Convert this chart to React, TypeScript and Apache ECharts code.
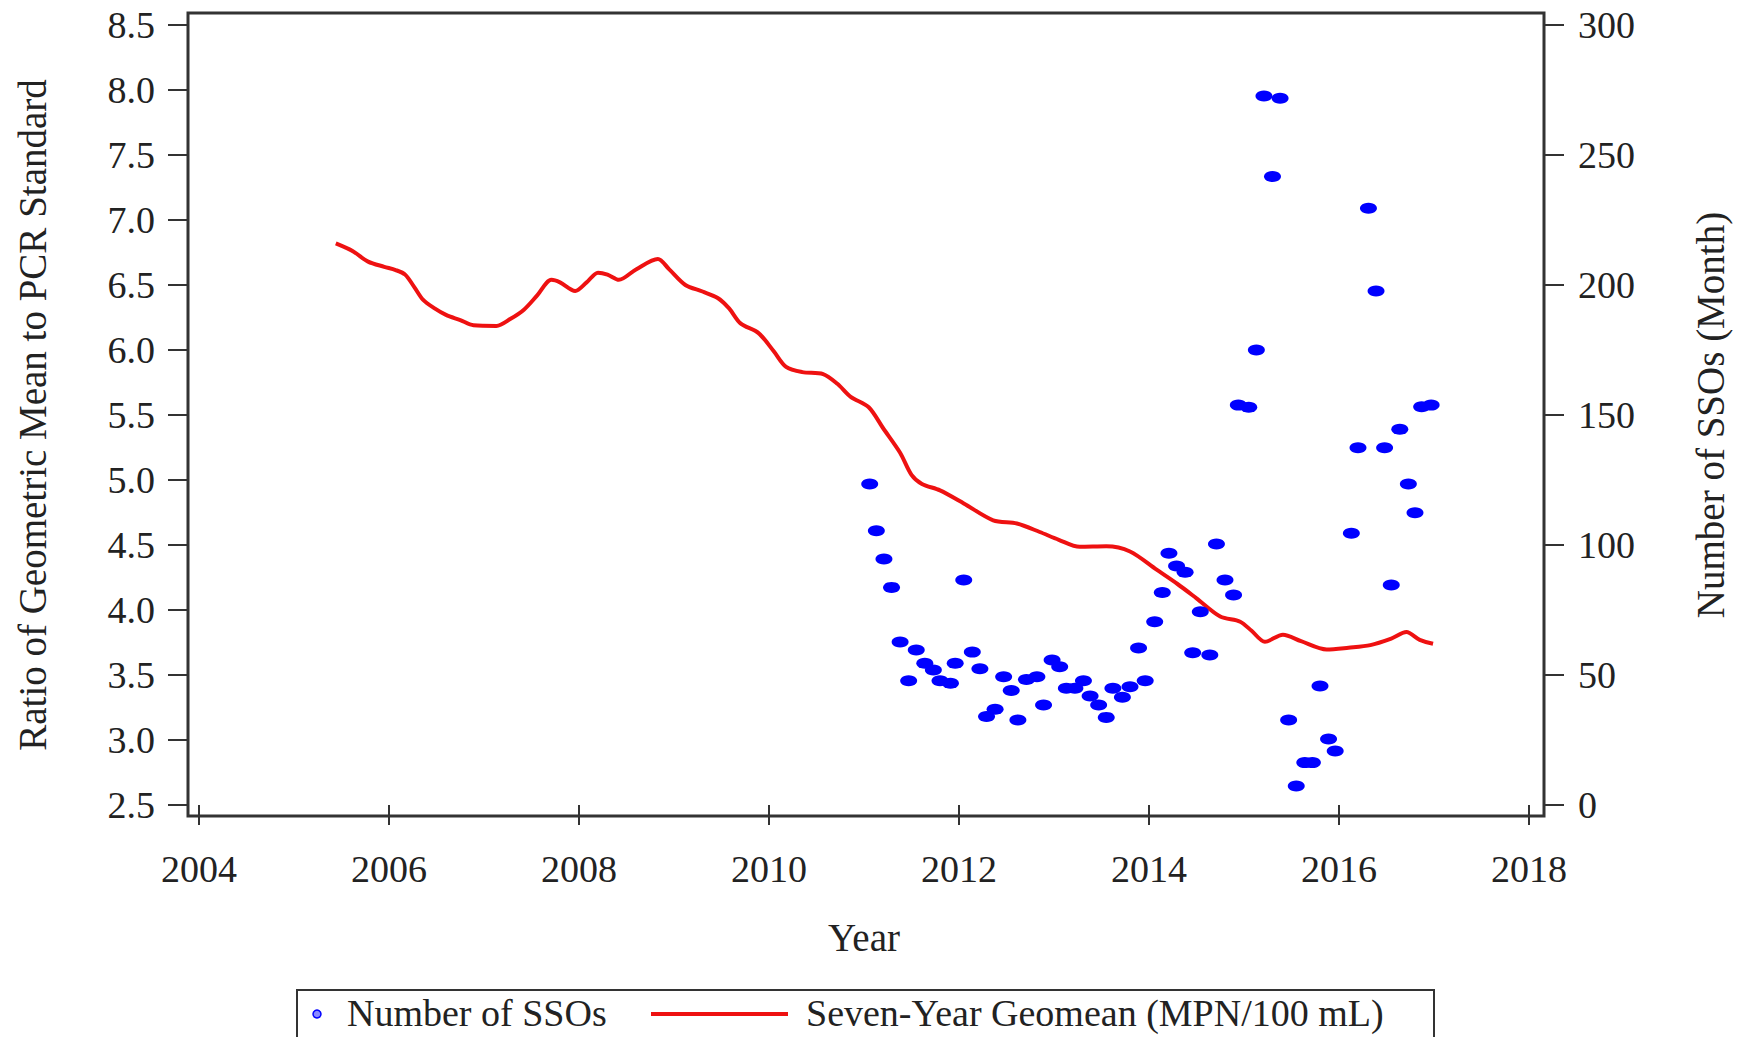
import React, { useEffect, useRef } from "react";
import * as echarts from "echarts";

const xTicks = { min: 2004, max: 2018, interval: 2 };
const leftTicks = { min: 2.5, max: 8.5, interval: 0.5 };
const rightTicks = { min: 0, max: 300, interval: 50 };

const lineYears = [
  2005.44, 2005.62, 2005.78, 2005.95, 2006.07, 2006.17, 2006.27, 2006.36, 2006.48, 2006.6,
  2006.75, 2006.89, 2007.13, 2007.28, 2007.42, 2007.56, 2007.71, 2007.8, 2007.96, 2008.08,
  2008.2, 2008.3, 2008.42, 2008.6, 2008.83, 2008.95, 2009.12, 2009.3, 2009.46, 2009.58,
  2009.7, 2009.89, 2010.05, 2010.18, 2010.35, 2010.57, 2010.72, 2010.86, 2011.05, 2011.2,
  2011.38, 2011.5, 2011.61, 2011.8, 2012.05, 2012.36, 2012.61, 2012.85, 2013.05, 2013.27,
  2013.55, 2013.8, 2014.08, 2014.3, 2014.5, 2014.75, 2014.96, 2015.08, 2015.22, 2015.41,
  2015.6, 2015.87, 2016.1, 2016.33, 2016.55, 2016.71, 2016.85, 2016.99,
];
const lineValues = [
  6.82, 6.76, 6.68, 6.64, 6.615, 6.58, 6.48, 6.385, 6.32, 6.27,
  6.23, 6.19, 6.185, 6.24, 6.31, 6.42, 6.54, 6.52, 6.454, 6.52,
  6.595, 6.58, 6.54, 6.62, 6.7, 6.62, 6.5, 6.45, 6.4, 6.32,
  6.205, 6.13, 5.99, 5.87, 5.83, 5.815, 5.74, 5.64, 5.56, 5.4,
  5.21, 5.04, 4.97, 4.92, 4.82, 4.69, 4.665, 4.6, 4.54, 4.486,
  4.49, 4.45, 4.31, 4.2, 4.09, 3.95, 3.91, 3.84, 3.756, 3.81,
  3.76, 3.696, 3.71, 3.73, 3.78, 3.83, 3.77, 3.74,
];

const ssoYears = [
  2011.06, 2011.13, 2011.21, 2011.29, 2011.38, 2011.47, 2011.55, 2011.64, 2011.73, 2011.8,
  2011.91, 2011.96, 2012.05, 2012.14, 2012.22, 2012.29, 2012.38, 2012.47, 2012.55, 2012.62,
  2012.71, 2012.82, 2012.89, 2012.98, 2013.06, 2013.13, 2013.22, 2013.31, 2013.38, 2013.47,
  2013.55, 2013.62, 2013.72, 2013.8, 2013.89, 2013.96, 2014.06, 2014.14, 2014.21, 2014.29,
  2014.38, 2014.46, 2014.54, 2014.64, 2014.71, 2014.8, 2014.89, 2014.94, 2015.05, 2015.13,
  2015.21, 2015.3, 2015.38, 2015.47, 2015.55, 2015.64, 2015.72, 2015.8, 2015.89, 2015.96,
  2016.13, 2016.2, 2016.31, 2016.39, 2016.48, 2016.55, 2016.64, 2016.73, 2016.8, 2016.87,
  2016.97,
];
const ssoCounts = [
  123.5, 105.5, 94.6, 83.7, 62.7, 47.8, 59.6, 54.5, 51.9, 47.8,
  46.8, 54.5, 86.5, 58.8, 52.4, 34, 36.8, 49.3, 44, 32.7,
  48.3, 49.3, 38.5, 55.8, 53.2, 44.9, 44.9, 47.8, 41.9, 38.5,
  33.7, 44.9, 41.4, 45.5, 60.4, 47.8, 70.5, 81.7, 96.8, 91.9,
  89.5, 58.6, 74.3, 57.7, 100.4, 86.5, 80.8, 153.8, 153, 175,
  272.7, 241.7, 271.8, 32.7, 7.3, 16.3, 16.3, 45.8, 25.4, 20.8,
  104.5, 137.4, 229.5, 197.7, 137.4, 84.6, 144.5, 123.5, 112.4, 153.2,
  153.8,
];

const seriesNames = ["Number of SSOs", "Seven-Year Geomean (MPN/100 mL)"];
const axisNames = {
  x: "Year",
  left: "Ratio of Geometric Mean to PCR Standard",
  right: "Number of SSOs (Month)",
};

const FONT = "'Liberation Serif', 'Times New Roman', serif";
const INK = "#222";
const FRAME = "#333";
const RED = "#EE1111";
const BLUE = "#0000FF";

export default function App() {
  const ref = useRef<HTMLDivElement>(null);

  useEffect(() => {
    if (!ref.current) return;
    const chart = echarts.init(ref.current, undefined, { renderer: "svg" });

    const lineData = lineYears.map((y, i) => [y, lineValues[i]]);
    const ssoData = ssoYears.map((y, i) => [y, ssoCounts[i]]);

    const tickStyle = { show: true, length: 20, inside: false, lineStyle: { color: FRAME, width: 2 } };
    const labelBase = { color: INK, fontFamily: FONT, fontSize: 38 };
    const nameBase = { color: INK, fontFamily: FONT, fontSize: 39 };

    chart.setOption({
      animation: false,
      backgroundColor: "#fff",
      grid: { left: 199, right: 222, top: 25, bottom: 232, containLabel: false },
      xAxis: {
        type: "value",
        min: xTicks.min,
        max: xTicks.max,
        interval: xTicks.interval,
        offset: 11,
        axisLine: { show: false },
        axisTick: tickStyle,
        splitLine: { show: false },
        axisLabel: { ...labelBase, margin: 34, formatter: (v: number) => String(v) },
        name: axisNames.x,
        nameLocation: "middle",
        nameGap: 102,
        nameTextStyle: nameBase,
      },
      yAxis: [
        {
          type: "value",
          position: "left",
          min: leftTicks.min,
          max: leftTicks.max,
          interval: leftTicks.interval,
          offset: 11,
          axisLine: { show: false },
          axisTick: tickStyle,
          splitLine: { show: false },
          axisLabel: { ...labelBase, margin: 33, formatter: (v: number) => v.toFixed(1) },
          name: axisNames.left,
          nameLocation: "middle",
          nameRotate: 90,
          nameGap: 136,
          nameTextStyle: nameBase,
        },
        {
          type: "value",
          position: "right",
          min: rightTicks.min,
          max: rightTicks.max,
          interval: rightTicks.interval,
          offset: 15,
          axisLine: { show: false },
          axisTick: tickStyle,
          splitLine: { show: false },
          axisLabel: { ...labelBase, margin: 34, formatter: (v: number) => String(v) },
          name: axisNames.right,
          nameLocation: "middle",
          nameRotate: 90,
          nameGap: 147,
          nameTextStyle: nameBase,
        },
      ],
      series: [
        {
          name: seriesNames[1],
          type: "line",
          yAxisIndex: 0,
          data: lineData,
          showSymbol: false,
          smooth: 0.3,
          lineStyle: { color: RED, width: 4 },
          z: 2,
        },
        {
          name: seriesNames[0],
          type: "scatter",
          yAxisIndex: 1,
          data: ssoData,
          symbol: "circle",
          symbolSize: [17, 11],
          itemStyle: { color: BLUE, opacity: 1 },
          z: 3,
        },
      ],
      graphic: [
        {
          type: "rect",
          silent: true,
          z: 100,
          shape: { x: 188, y: 13, width: 1356, height: 803 },
          style: { fill: "none", stroke: FRAME, lineWidth: 3 },
        },
        {
          type: "rect",
          silent: true,
          z: 100,
          shape: { x: 297, y: 990, width: 1137, height: 70 },
          style: { fill: "#fff", stroke: FRAME, lineWidth: 2 },
        },
        {
          type: "circle",
          silent: true,
          z: 101,
          shape: { cx: 317, cy: 1014, r: 4 },
          style: { fill: "#8a8aff", stroke: BLUE, lineWidth: 1.5 },
        },
        {
          type: "text",
          silent: true,
          z: 101,
          x: 347,
          y: 1013,
          style: { text: seriesNames[0], font: `38px ${FONT}`, fill: INK, verticalAlign: "middle", align: "left" },
        },
        {
          type: "line",
          silent: true,
          z: 101,
          shape: { x1: 651, y1: 1014, x2: 788, y2: 1014 },
          style: { stroke: RED, lineWidth: 4 },
        },
        {
          type: "text",
          silent: true,
          z: 101,
          x: 806,
          y: 1013,
          style: { text: seriesNames[1], font: `38px ${FONT}`, fill: INK, verticalAlign: "middle", align: "left" },
        },
      ],
    });

    return () => chart.dispose();
  }, []);

  return (
    <div
      ref={ref}
      style={{ position: "fixed", left: 0, top: 0, width: 1751, height: 1037, background: "#fff" }}
    />
  );
}
